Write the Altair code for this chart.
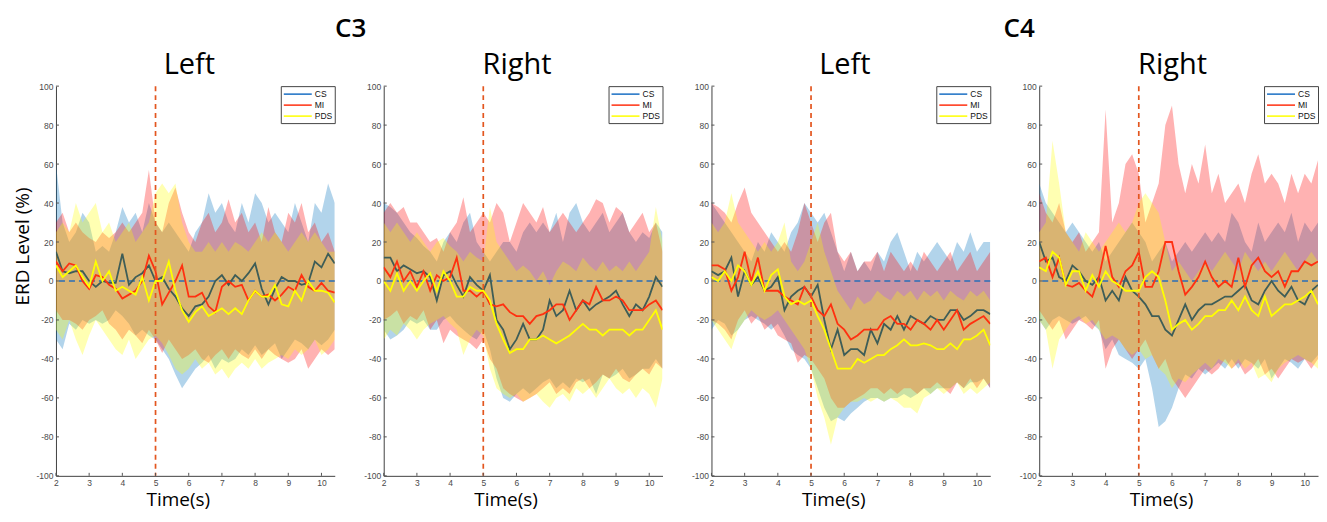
import altair as alt
import pandas as pd

# ---------------- data ----------------
T = [2.0, 2.2, 2.4, 2.6, 2.8, 3.0, 3.2, 3.4, 3.6, 3.8, 4.0, 4.2, 4.4, 4.6, 4.8,
     5.0, 5.2, 5.4, 5.6, 5.8, 6.0, 6.2, 6.4, 6.6, 6.8, 7.0, 7.2, 7.4, 7.6, 7.8,
     8.0, 8.2, 8.4, 8.6, 8.8, 9.0, 9.2, 9.4, 9.6, 9.8, 10.0, 10.2, 10.4]

# C3 - Left
C3L_CS_MEAN = [15, 5, 4, 5, 5, 0, -3, 0, -1, -1, 14, -2, 2, 4, 8, 0, 2, -4, -8, -14, -18, -13, -12, -8, 0, 3, -2, 3, 0, 4, 9, -4, -12, -4, 2, 0, 0, -2, -1, 10, 7, 14, 9]
C3L_CS_HI = [60, 30, 20, 25, 35, 30, 15, 18, 15, 25, 38, 30, 35, 25, 40, 30, 25, 30, 25, 20, 15, 25, 30, 45, 35, 40, 30, 25, 40, 30, 45, 40, 30, 35, 30, 25, 40, 30, 20, 40, 35, 50, 40]
C3L_CS_LO = [-30, -35, -22, -25, -20, -22, -20, -22, -20, -15, -18, -22, -28, -25, -28, -30, -35, -40, -48, -55, -50, -45, -42, -38, -45, -40, -42, -40, -35, -38, -33, -38, -35, -32, -40, -35, -30, -32, -35, -30, -33, -30, -25]
C3L_MI_MEAN = [10, 5, 9, 8, 0, -4, 3, 2, -2, -4, -9, -7, -5, 0, 13, 5, -12, -6, 0, 8, -8, -8, -6, -13, -16, -3, 0, -3, -2, -10, -5, -8, -7, -10, -7, -3, -5, 3, -3, -5, -1, -5, -6]
C3L_MI_HI = [30, 35, 25, 30, 25, 22, 20, 25, 22, 25, 30, 25, 30, 35, 57, 30, 25, 40, 48, 35, 25, 20, 30, 35, 25, 30, 42, 30, 35, 25, 30, 20, 38, 25, 20, 35, 30, 40, 25, 30, 20, 25, 15]
C3L_MI_LO = [-15, -20, -20, -22, -25, -20, -18, -15, -22, -25, -30, -25, -28, -32, -25, -30, -37, -30, -35, -40, -38, -35, -40, -42, -38, -35, -40, -35, -38, -40, -35, -40, -35, -38, -40, -42, -40, -35, -45, -40, -35, -38, -35]
C3L_PDS_MEAN = [8, 2, 5, 8, 2, -3, 10, 0, 5, -5, -3, -5, -7, 2, -10, 0, 0, 10, -5, -15, -21, -16, -13, -18, -16, -14, -17, -14, -17, -10, -5, -8, -8, -2, -12, -13, -5, -10, 0, -5, -5, -6, -11]
C3L_PDS_HI = [25, 30, 25, 40, 30, 35, 40, 25, 30, 20, 25, 30, 20, 25, 30, 45, 50, 45, 50, 30, 20, 15, 15, 20, 15, 20, 15, 20, 18, 15, 20, 25, 20, 25, 20, 15, 20, 25, 20, 25, 20, 15, 15]
C3L_PDS_LO = [-25, -30, -20, -30, -38, -28, -20, -25, -30, -35, -38, -30, -40, -35, -30, -28, -32, -38, -45, -48, -45, -40, -45, -42, -48, -45, -50, -45, -42, -45, -40, -45, -42, -40, -38, -40, -35, -38, -35, -30, -38, -35, -30]

# C3 - Right
C3R_CS_MEAN = [12, 12, 5, 8, 6, 4, 5, 2, -10, 3, 5, -2, -8, 2, -2, -5, 3, -20, -25, -35, -30, -22, -30, -30, -25, -10, -18, -15, -5, -15, -10, -15, -12, -10, -8, -5, -12, -18, -12, -15, -8, 2, -3]
C3R_CS_HI = [40, 38, 35, 30, 25, 22, 18, 15, 10, 20, 25, 20, 30, 35, 20, 15, 10, 15, 20, 20, 15, 25, 30, 25, 30, 25, 35, 20, 35, 40, 30, 25, 30, 35, 25, 30, 35, 25, 20, 25, 22, 30, 25]
C3R_CS_LO = [-25, -30, -28, -25, -20, -22, -20, -25, -25, -20, -18, -22, -25, -28, -30, -25, -35, -50, -60, -62, -58, -55, -58, -55, -52, -50, -55, -52, -55, -50, -52, -50, -58, -48, -50, -48, -45, -50, -48, -45, -45, -40, -45]
C3R_MI_MEAN = [7, 2, 10, 0, 5, -3, 5, -5, 3, 0, 2, 12, -5, -5, -8, -5, -12, -13, -12, -16, -18, -18, -22, -18, -17, -15, -12, -12, -20, -15, -10, -12, -3, -10, -10, -8, -10, -15, -15, -15, -12, -10, -15]
C3R_MI_HI = [35, 40, 35, 38, 30, 30, 25, 20, 22, 15, 25, 30, 43, 25, 30, 35, 30, 40, 35, 20, 30, 40, 35, 30, 38, 25, 30, 35, 30, 25, 30, 35, 42, 40, 30, 38, 35, 25, 30, 35, 25, 30, 15]
C3R_MI_LO = [-20, -18, -15, -22, -18, -20, -15, -25, -20, -32, -25, -28, -30, -32, -35, -30, -40, -45, -55, -58, -60, -62, -60, -58, -55, -52, -58, -55, -58, -52, -50, -55, -52, -48, -50, -45, -50, -52, -48, -45, -48, -42, -45]
C3R_PDS_MEAN = [0, -5, 4, -5, 0, -5, 0, 4, -5, 5, 0, -8, -8, -3, -5, -5, -10, -22, -30, -37, -35, -35, -30, -30, -28, -30, -32, -30, -28, -25, -22, -25, -25, -28, -25, -25, -25, -28, -25, -25, -20, -15, -25]
C3R_PDS_HI = [30, 25, 30, 25, 20, 25, 20, 15, 20, 22, 18, 15, 10, 15, 12, 10, 38, 20, 15, 10, 5, 8, 5, 0, 5, -2, 5, 10, 8, 5, 12, 8, 5, 10, 5, 8, 5, 10, 5, 10, 15, 38, 20]
C3R_PDS_LO = [-30, -25, -28, -22, -25, -30, -25, -22, -20, -18, -22, -25, -38, -30, -25, -28, -45, -55, -58, -60, -58, -62, -60, -58, -62, -65, -60, -58, -62, -55, -58, -55, -60, -55, -50, -55, -58, -55, -60, -55, -58, -65, -50]

# C4 - Left
C4L_CS_MEAN = [5, 3, 5, 12, -8, 5, -2, 2, -5, -3, 2, -15, -8, -5, -3, -8, -2, -20, -35, -25, -38, -35, -35, -38, -25, -32, -22, -25, -18, -25, -18, -20, -22, -18, -20, -20, -15, -15, -20, -18, -15, -15, -17]
C4L_CS_HI = [40, 35, 30, 25, 20, 15, 10, 20, 15, 25, 20, 15, 25, 30, 40, 35, 30, 35, 25, 15, 5, 15, 5, 10, 5, 15, 10, 20, 25, 15, 5, 15, 10, 15, 20, 15, 10, 20, 15, 25, 15, 20, 20]
C4L_CS_LO = [-25, -20, -22, -28, -25, -20, -18, -20, -22, -25, -22, -28, -35, -38, -40, -45, -55, -65, -72, -70, -72, -68, -65, -62, -60, -60, -62, -60, -60, -58, -60, -58, -55, -58, -55, -55, -55, -52, -55, -52, -52, -50, -55]
C4L_MI_MEAN = [8, 8, 6, -5, 2, 15, 0, 12, -5, -5, -5, -8, -10, -12, -3, -8, -15, -18, -12, -22, -25, -30, -28, -25, -25, -25, -20, -18, -22, -22, -25, -20, -22, -25, -20, -25, -20, -15, -25, -22, -20, -18, -22]
C4L_MI_HI = [40, 38, 35, 30, 40, 48, 35, 30, 25, 20, 15, 20, 15, 25, 40, 30, 20, 30, 35, 15, 10, 15, 5, 10, 10, 15, 5, 15, 10, 5, 10, 5, 15, 10, 5, 10, 15, 5, 10, 15, 5, 10, 15]
C4L_MI_LO = [-20, -22, -25, -30, -20, -15, -22, -18, -25, -22, -28, -30, -32, -42, -38, -40, -45, -50, -60, -65, -65, -62, -60, -58, -55, -55, -58, -55, -58, -55, -55, -58, -55, -55, -52, -55, -58, -52, -55, -50, -55, -50, -55]
C4L_PDS_MEAN = [2, 0, 5, 0, 8, 5, -2, 5, -5, 3, 6, -8, -12, -10, -12, -10, -18, -25, -35, -45, -45, -45, -40, -42, -40, -38, -38, -35, -33, -30, -33, -33, -32, -33, -35, -35, -32, -35, -30, -30, -28, -25, -33]
C4L_PDS_HI = [30, 25, 30, 45, 30, 25, 20, 15, 20, 15, 20, 30, 10, 5, 10, 20, 30, 15, 5, -5, -10, -15, -8, -12, -10, -5, -8, -10, -5, -8, -5, -10, -5, -8, -5, -10, -5, -8, -10, -5, -8, -5, -10]
C4L_PDS_LO = [-20, -25, -30, -35, -25, -20, -15, -18, -20, -18, -15, -20, -25, -30, -35, -45, -60, -70, -84, -70, -65, -62, -62, -60, -62, -60, -62, -60, -62, -65, -65, -68, -60, -58, -55, -58, -55, -52, -58, -55, -58, -55, -52]

# C4 - Right
C4R_CS_MEAN = [20, 10, 12, 2, 0, 8, 5, 0, -2, 2, -10, -5, -10, 2, -5, -8, -12, -18, -18, -25, -28, -20, -12, -20, -15, -12, -12, -10, -8, -8, -5, -2, -10, -12, -5, 0, -5, -8, -3, -10, -12, -5, -2]
C4R_CS_HI = [50, 40, 35, 30, 25, 30, 25, 20, 15, 20, 10, 15, 20, 25, 30, 25, 20, 10, 15, 20, 10, 15, 20, 15, 20, 25, 20, 25, 20, 35, 30, 20, 15, 30, 20, 25, 30, 25, 35, 20, 30, 25, 30]
C4R_CS_LO = [-20, -25, -20, -18, -20, -22, -20, -18, -22, -25, -35, -30, -38, -40, -42, -45, -40, -55, -75, -72, -65, -55, -48, -50, -45, -48, -45, -42, -45, -40, -45, -40, -42, -45, -40, -50, -45, -40, -42, -45, -40, -42, -38]
C4R_MI_MEAN = [10, 12, 2, 12, -2, -3, -1, -5, -8, 2, 18, 2, -3, 5, 8, 15, -3, -3, 5, 20, 20, 5, -7, -3, 2, 10, 2, -3, 0, -3, 12, -3, 8, 12, 5, 2, 5, -3, 5, 5, 10, 8, 10]
C4R_MI_HI = [45, 35, 30, 40, 25, 20, 25, 15, 20, 25, 88, 30, 40, 60, 65, 55, 30, 40, 50, 80, 90, 60, 45, 60, 50, 70, 45, 55, 40, 45, 50, 40, 55, 65, 50, 55, 50, 40, 55, 45, 55, 50, 62]
C4R_MI_LO = [-15, -20, -25, -20, -30, -25, -20, -22, -25, -20, -45, -35, -30, -35, -40, -35, -30, -38, -45, -40, -50, -55, -60, -55, -50, -45, -48, -45, -40, -45, -42, -48, -45, -40, -48, -45, -50, -45, -40, -42, -40, -45, -40]
C4R_PDS_MEAN = [7, 5, 15, 12, -2, 5, 5, -5, 3, -3, 5, 0, -2, -5, -5, -5, 2, 5, 2, -10, -25, -22, -20, -25, -22, -18, -18, -15, -15, -10, -15, -8, -15, -18, -8, -18, -15, -12, -12, -10, -8, -5, -12]
C4R_PDS_HI = [25, 30, 72, 50, 25, 20, 15, 25, 20, 15, 20, 25, 30, 25, 30, 40, 45, 40, 35, 20, 5, 10, 5, 0, 5, 10, 5, 10, 15, 10, 5, 15, 10, 5, 10, 5, 10, 15, 10, 5, 10, 15, 10]
C4R_PDS_LO = [-20, -25, -45, -30, -25, -20, -18, -22, -20, -25, -30, -28, -30, -35, -38, -35, -40, -38, -45, -48, -55, -50, -52, -48, -45, -42, -45, -40, -42, -45, -40, -45, -42, -50, -48, -52, -45, -42, -40, -38, -40, -42, -45]

SERIES = ["CS", "MI", "PDS"]
X_TICKS = [2, 3, 4, 5, 6, 7, 8, 9, 10]
Y_TICKS = [-100, -80, -60, -40, -20, 0, 20, 40, 60, 80, 100]
ONSET = [5]
BASELINE = [0]

# ---------------- style ----------------
BAND_COLORS = {"CS": "#0072BD", "MI": "#FF0000", "PDS": "#FFFF00"}
LEGEND_COLORS = ["#1a6fc4", "#ff3010", "#ffff00"]
CS_LINE_COLOR = "#3e5d57"
W, H = 279, 390


def make_df(cs, mi, pds):
    rows = []
    for name, (mean, lo, hi) in zip(SERIES, (cs, mi, pds)):
        assert len(mean) == len(lo) == len(hi) == len(T), name
        for t, m, l, h in zip(T, mean, lo, hi):
            rows.append({"t": t, "series": name, "mean": m, "lo": l, "hi": h})
    return pd.DataFrame(rows)


def panel(title, df, first):
    xscale = alt.Scale(domain=[2, 10.4], nice=False, zero=False)
    yscale = alt.Scale(domain=[-100, 100], nice=False, zero=False)
    xaxis = alt.Axis(values=X_TICKS, title="Time(s)", titleX=122, titlePadding=3,
                     labelFlush=False, labelOverlap=False)
    if first:
        yaxis = alt.Axis(values=Y_TICKS, title="ERD Level (%)", titleY=160,
                         titlePadding=3, labelFlush=False, labelOverlap=False,
                         labelExpr="'' + datum.value")
    else:
        yaxis = alt.Axis(values=Y_TICKS, title=None, labelFlush=False, labelOverlap=False,
                         labelExpr="'' + datum.value")

    X = alt.X("t:Q", scale=xscale, axis=xaxis)
    base = alt.Chart(df)
    layers = []
    for s in SERIES:
        layers.append(
            base.transform_filter(alt.datum.series == s)
            .mark_area(color=BAND_COLORS[s], opacity=0.3, clip=True)
            .encode(x=X, y=alt.Y("lo:Q", scale=yscale, axis=yaxis), y2="hi:Q")
        )
    layers.append(
        alt.Chart(pd.DataFrame({"v": BASELINE}))
        .mark_rule(color="#2a6db8", strokeDash=[6, 4], strokeWidth=1.7)
        .encode(y=alt.Y("v:Q", scale=yscale, axis=yaxis))
    )
    layers.append(
        base.transform_filter(alt.datum.series == "CS")
        .mark_line(color=CS_LINE_COLOR, strokeWidth=1.8, clip=True)
        .encode(x=X, y=alt.Y("mean:Q", scale=yscale, axis=yaxis))
    )
    layers.append(
        base.transform_filter(alt.datum.series != "CS")
        .mark_line(strokeWidth=1.8, clip=True)
        .encode(
            x=X,
            y=alt.Y("mean:Q", scale=yscale, axis=yaxis),
            color=alt.Color(
                "series:N",
                scale=alt.Scale(domain=SERIES, range=LEGEND_COLORS),
                legend=alt.Legend(
                    title=None, orient="top-right", offset=0,
                    symbolType="M-1,0H4.6", symbolSize=100, symbolStrokeWidth=1.5,
                    labelFont="Liberation Sans", labelFontSize=8.5, labelColor="#111",
                    strokeColor="#444", fillColor="white", padding=2,
                    rowPadding=0, labelOffset=20, cornerRadius=0,
                ),
            ),
        )
    )
    layers.append(
        alt.Chart(pd.DataFrame({"t": ONSET}))
        .mark_rule(color="#e3561f", strokeDash=[5, 4], strokeWidth=1.7)
        .encode(x=X)
    )
    # inward tick marks (MATLAB style)
    layers.append(
        alt.Chart(pd.DataFrame({"t": X_TICKS}))
        .mark_rule(color="#555555", strokeWidth=1)
        .encode(x=X, y=alt.value(H), y2=alt.value(H - 3))
    )
    layers.append(
        alt.Chart(pd.DataFrame({"v": Y_TICKS}))
        .mark_rule(color="#555555", strokeWidth=1)
        .encode(y=alt.Y("v:Q", scale=yscale, axis=yaxis), x=alt.value(0), x2=alt.value(3))
    )
    return alt.layer(*layers).properties(
        width=W, height=H,
        title=alt.Title(title, font="Open Sans", fontSize=29, fontWeight="normal",
                        color="black", frame="group", anchor="middle", dx=-6, offset=2),
    )


p1 = panel("Left", make_df((C3L_CS_MEAN, C3L_CS_LO, C3L_CS_HI), (C3L_MI_MEAN, C3L_MI_LO, C3L_MI_HI), (C3L_PDS_MEAN, C3L_PDS_LO, C3L_PDS_HI)), True)
p2 = panel("Right", make_df((C3R_CS_MEAN, C3R_CS_LO, C3R_CS_HI), (C3R_MI_MEAN, C3R_MI_LO, C3R_MI_HI), (C3R_PDS_MEAN, C3R_PDS_LO, C3R_PDS_HI)), False)
p3 = panel("Left", make_df((C4L_CS_MEAN, C4L_CS_LO, C4L_CS_HI), (C4L_MI_MEAN, C4L_MI_LO, C4L_MI_HI), (C4L_PDS_MEAN, C4L_PDS_LO, C4L_PDS_HI)), False)
p4 = panel("Right", make_df((C4R_CS_MEAN, C4R_CS_LO, C4R_CS_HI), (C4R_MI_MEAN, C4R_MI_LO, C4R_MI_HI), (C4R_PDS_MEAN, C4R_PDS_LO, C4R_PDS_HI)), False)

group_title = dict(font="Open Sans", fontSize=26, fontWeight=600, color="black",
                   anchor="middle", offset=9)
left = (alt.hconcat(p1, p2, spacing=27, title=alt.Title("C3", dx=12, **group_title))
        .resolve_scale(color="independent").resolve_legend(color="independent"))
right = (alt.hconcat(p3, p4, spacing=27, title=alt.Title("C4", dx=14, **group_title))
         .resolve_scale(color="independent").resolve_legend(color="independent"))

chart = (
    alt.hconcat(left, right, spacing=27)
    .resolve_scale(color="independent")
    .resolve_legend(color="independent")
    .properties(padding={"left": 5, "right": 0, "top": 8, "bottom": 2})
    .configure_view(stroke=None)
    .configure_axis(
        labelFont="Liberation Sans", labelFontSize=8.5, labelColor="#4a4a4a",
        tickSize=0, labelPadding=3, domainColor="#404040", domainWidth=1, grid=False,
        titleFont="Open Sans", titleFontSize=19, titleFontWeight="normal", titleColor="black",
    )
)

chart.save("out.html", embed_options={"renderer": "svg", "actions": False})
